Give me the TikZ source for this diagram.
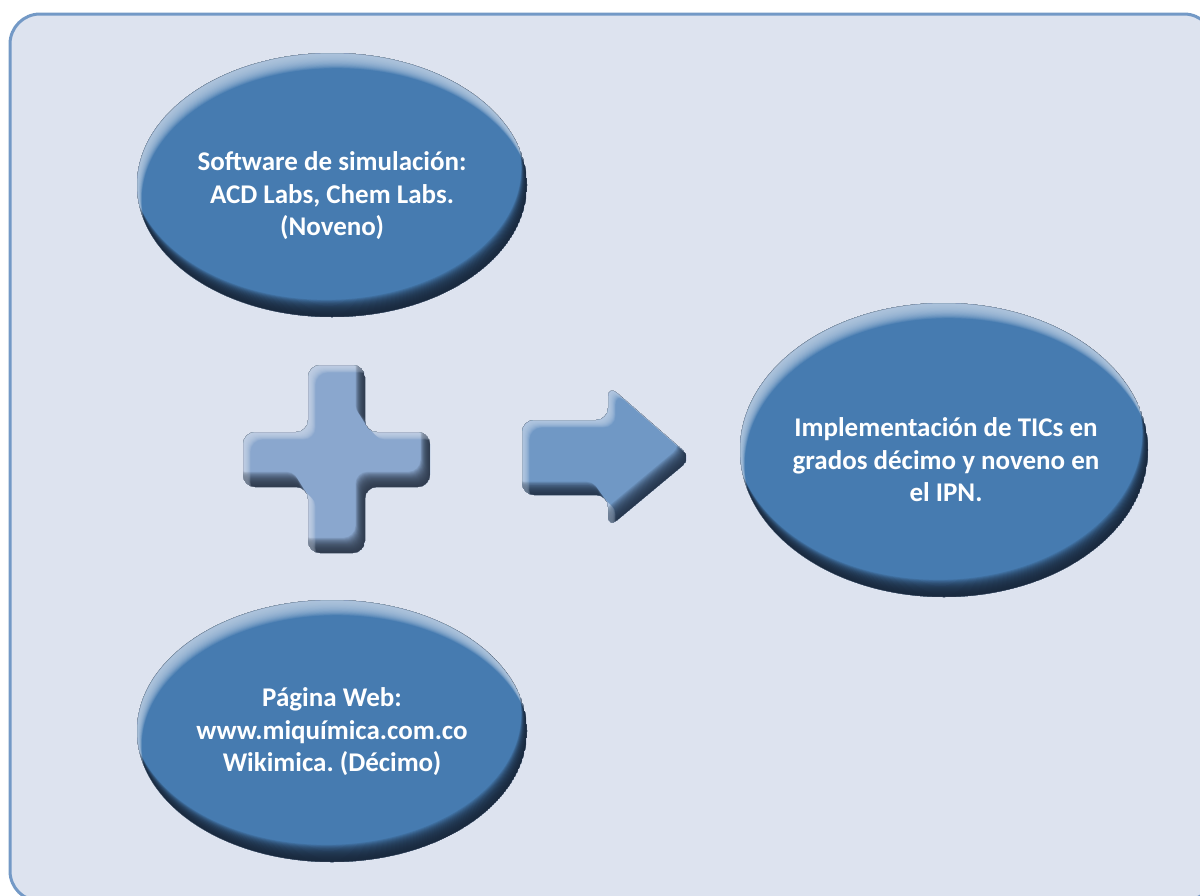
\documentclass[tikz,border=0pt]{standalone}
\usepackage{fontspec}
\setmainfont{Carlito}
\frenchspacing
\definecolor{bgfill}{HTML}{DDE3EF}
\definecolor{bgline}{HTML}{7399C6}
\definecolor{ellmain}{HTML}{467BB0}
\definecolor{elldark}{HTML}{1A283B}
\definecolor{elllight}{HTML}{B9CDE3}
\definecolor{plusmain}{HTML}{8AA7CE}
\definecolor{pluslight}{HTML}{CBD8EA}
\definecolor{plusdark}{HTML}{2C3748}
\definecolor{arrmain}{HTML}{7098C5}
\definecolor{arrlight}{HTML}{C0D2E8}
\definecolor{arrdark}{HTML}{233247}
\newcommand\bevelell[4]{%
 \begin{scope}
 \clip (#1,#2) ellipse [x radius=#3, y radius=#4];
 \fill[ellmain] (#1,#2) ellipse [x radius=#3, y radius=#4];
 \foreach \f in {0.05,0.1,...,1.0}{
   \fill[elldark, fill opacity=0.14, even odd rule] (#1,#2) ellipse [x radius=#3, y radius=#4] ({#1-6*\f},{#2-18*\f}) ellipse [x radius=#3, y radius=#4];
   \fill[elllight, fill opacity=0.12, even odd rule] (#1,#2) ellipse [x radius=#3, y radius=#4] ({#1+5*\f},{#2+16*\f}) ellipse [x radius=#3, y radius=#4];
 }
 \end{scope}}
\newcommand\pluspath[2]{({308+(#1)},{365+(#2)}) -- ({365+(#1)},{365+(#2)}) -- ({365+(#1)},{432+(#2)}) -- ({430+(#1)},{432+(#2)}) -- ({430+(#1)},{487+(#2)}) -- ({365+(#1)},{487+(#2)}) -- ({365+(#1)},{553+(#2)}) -- ({308+(#1)},{553+(#2)}) -- ({308+(#1)},{487+(#2)}) -- ({243+(#1)},{487+(#2)}) -- ({243+(#1)},{432+(#2)}) -- ({308+(#1)},{432+(#2)}) -- cycle}
\newcommand\arrowpath[2]{({522+(#1)},{420+(#2)}) -- ({608+(#1)},{420+(#2)}) -- ({608+(#1)},{385+(#2)}) -- ({692+(#1)},{458+(#2)}) -- ({608+(#1)},{528+(#2)}) -- ({608+(#1)},{495+(#2)}) -- ({522+(#1)},{495+(#2)}) -- cycle}
\newcommand\bevelshape[8]{%
 \begin{scope}[rounded corners=12]
 \clip #1{0}{0};
 \fill[#2] #1{0}{0};
 \foreach \f in {0.05,0.1,...,1.0}{
   \fill[#3, fill opacity=0.12, even odd rule] #1{0}{0} #1{-#5*\f}{-#6*\f};
   \fill[#4, fill opacity=0.1, even odd rule] #1{0}{0} #1{#7*\f}{#8*\f};
 }
 \end{scope}}
\tikzset{lbl/.style={text=white, font=\bfseries\fontsize{27}{32.5}\selectfont, align=center}}
\begin{document}
\begin{tikzpicture}[x=1pt, y=-1pt]
\useasboundingbox (0,0) rectangle (1200,895);
\fill[white] (0,0) rectangle (1200,895);
\draw[bgline, line width=3, fill=bgfill, rounded corners=30] (10,14) rectangle (1214,901);
\bevelell{332}{185}{195}{132}
\bevelell{332}{731}{195}{131}
\bevelell{944}{450}{204}{147}
\bevelshape{\pluspath}{plusmain}{plusdark}{pluslight}{10}{16}{8}{8}
\bevelshape{\arrowpath}{arrmain}{arrdark}{arrlight}{10}{14}{8}{8}
\node[lbl] (soft) at (332,196) {Software de simulación:\\ACD Labs, Chem Labs.\\(Noveno)};
\node[lbl] (web) at (332,732) {Página Web:\\www.miquímica.com.co\\Wikimica. (Décimo)};
\node[lbl] (tic) at (946,460) {Implementación de TICs en\\grados décimo y noveno en\\el IPN.};
\end{tikzpicture}
\end{document}
